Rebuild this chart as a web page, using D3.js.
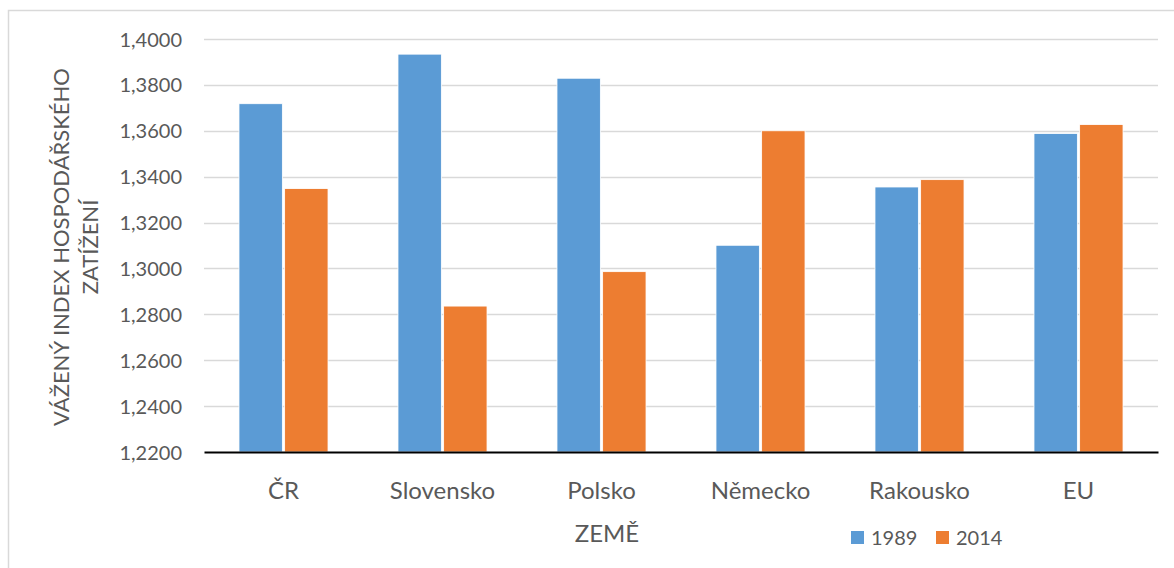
<!DOCTYPE html>
<html><head><meta charset="utf-8">
<script src="https://cdn.jsdelivr.net/npm/d3@7"></script>
<style>
body{margin:0;background:#fff;}
svg{display:block;font-family:Lato, "Open Sans", sans-serif;}
</style></head><body>
<svg id="c" width="1174" height="568"></svg>
<script>
const categories = ["ČR","Slovensko","Polsko","Německo","Rakousko","EU"];
const seriesNames = ["1989","2014"];
const values1989 = [1.3718,1.3934,1.3829,1.3101,1.3355,1.3588];
const values2014 = [1.3348,1.2836,1.2986,1.3600,1.3387,1.3627];
const yTicks = [1.22,1.24,1.26,1.28,1.30,1.32,1.34,1.36,1.38,1.40];
const colors = ["#5B9BD5","#ED7D31"];
const yTitle = ["VÁŽENÝ INDEX HOSPODÁŘSKÉHO","ZATÍŽENÍ"];
const xTitle = "ZEMĚ";

const svg = d3.select("#c");
const M = {l:204, r:1158, t:39, b:452};
const textCol = "#595959";

// chart border
svg.append("rect").attr("x",8.5).attr("y",10.5).attr("width",1180).attr("height",600)
  .attr("fill","none").attr("stroke","#D9D9D9").attr("stroke-width",1.5);

const x = d3.scaleBand().domain(categories).range([M.l,M.r]).paddingInner(0.44).paddingOuter(0.22);
const xs = d3.scaleBand().domain(seriesNames).range([0,x.bandwidth()]).paddingInner(0.05);
const y = d3.scaleLinear().domain([1.22,1.40]).range([M.b,M.t]);

// gridlines
svg.append("g").selectAll("line").data(yTicks.slice(1)).join("line")
  .attr("x1",M.l).attr("x2",M.r).attr("y1",d=>Math.round(y(d))+0.5).attr("y2",d=>Math.round(y(d))+0.5)
  .attr("stroke","#D9D9D9").attr("stroke-width",1.5);

// y axis labels
const yAxis = d3.axisLeft(y).tickValues(yTicks).tickSize(0).tickPadding(0)
  .tickFormat(d=>d3.format(".4f")(d).replace(".",","));
const ga = svg.append("g").attr("transform",`translate(182,0)`).call(yAxis);
ga.select(".domain").remove();
ga.selectAll("text").attr("font-size",20).attr("fill",textCol).attr("font-family","Lato").attr("dy","0.35em");

// bars
const data = categories.map((c,i)=>({c, vals:[values1989[i],values2014[i]]}));
const g = svg.append("g");
data.forEach(d=>{
  d.vals.forEach((v,j)=>{
    g.append("rect")
      .attr("x",x(d.c)+xs(seriesNames[j]))
      .attr("y",y(v))
      .attr("width",xs.bandwidth())
      .attr("height",y(1.22)-y(v))
      .attr("fill",colors[j])
      .attr("stroke","#fff").attr("stroke-width",0.8);
  });
});

// x axis
const xAxis = d3.axisBottom(x).tickSize(0).tickPadding(0);
const gx = svg.append("g").attr("transform",`translate(0,${M.b})`).call(xAxis);
gx.select(".domain").attr("stroke","#000").attr("stroke-width",1.8);
gx.selectAll("text").attr("font-size",24).attr("fill",textCol).attr("font-family","Lato").attr("y",47).attr("dy",0);

// x title
svg.append("text").attr("x",607).attr("y",542).attr("text-anchor","middle")
  .attr("font-size",24).attr("fill",textCol).text(xTitle);

// y title
const yt = svg.append("text").attr("transform","translate(0,247) rotate(-90)").attr("text-anchor","middle")
  .attr("font-size",22).attr("fill",textCol);
yt.append("tspan").attr("x",0).attr("y",69).text(yTitle[0]);
yt.append("tspan").attr("x",0).attr("y",98).text(yTitle[1]);

// legend
const legX = [851,936];
seriesNames.forEach((s,i)=>{
  svg.append("rect").attr("x",legX[i]).attr("y",531).attr("width",13).attr("height",13).attr("fill",colors[i]);
  svg.append("text").attr("x",legX[i]+20).attr("y",545).attr("font-size",20).attr("fill",textCol).text(s);
});
</script>
</body></html>
